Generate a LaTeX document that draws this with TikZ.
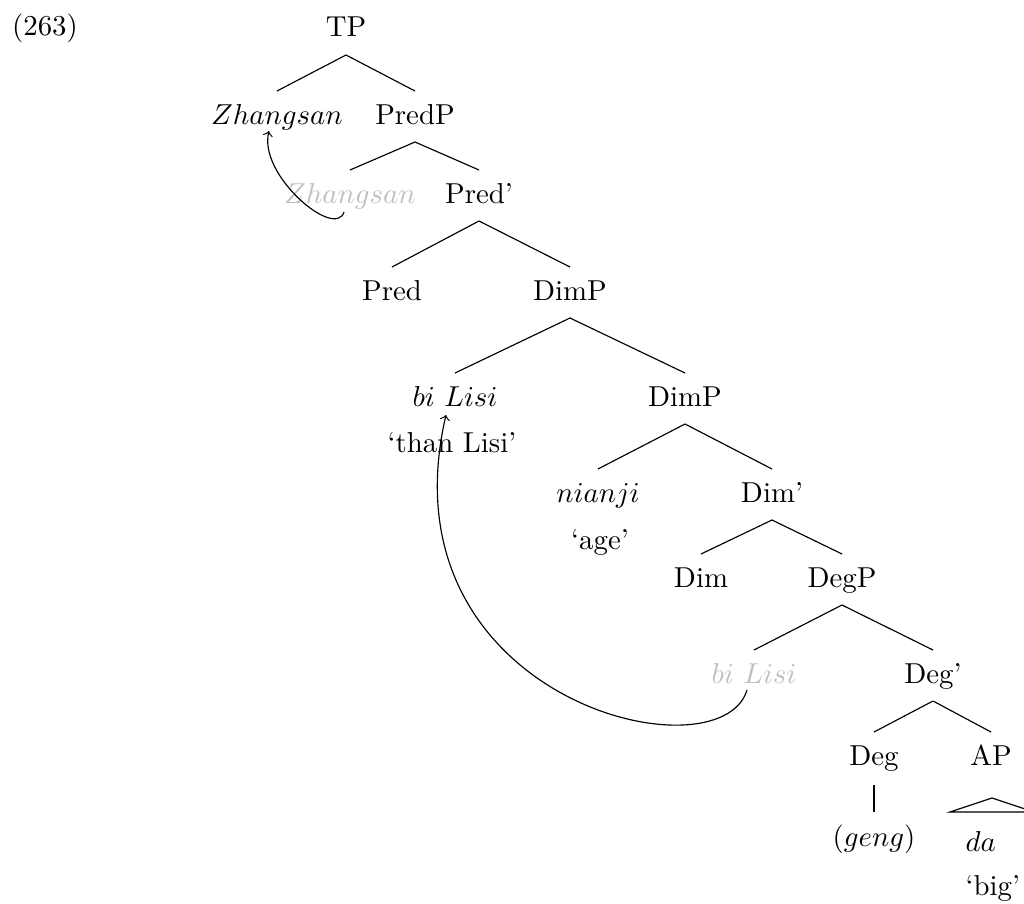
\documentclass[tikz,border=0pt]{standalone}
\usetikzlibrary{calc}
\begin{document}
\begin{tikzpicture}[x=0.347pt,y=-0.347pt,
  lab/.style={anchor=base,inner sep=0pt},
  trace/.style={lab,text=black!25},
  branch/.style={line width=0.4pt},
  mv/.style={->,line width=0.4pt}]
\useasboundingbox (0,0) rectangle (1024,903);
\node[lab] (ex) at (45,36) {(263)};
\node[lab] (TP) at (346,37) {TP};
\node[lab] (zh) at (277,124) {$Zhangsan$};
\node[lab] (predp) at (415,124) {PredP};
\node[trace] (zht) at (350,203) {$Zhangsan$};
\node[lab] (predbar) at (479,203) {Pred'};
\node[lab] (pred) at (392,300) {Pred};
\node[lab] (dimp) at (570,300) {DimP};
\node[lab] (bl) at (455,406) {$bi$ $Lisi$};
\node[lab] (blg) at (452,452) {`than Lisi'};
\node[lab] (dimp2) at (685,406) {DimP};
\node[lab] (nj) at (598,502) {$nianji$};
\node[lab] (njg) at (600,549) {`age'};
\node[lab] (dimbar) at (772,502) {Dim'};
\node[lab] (dim) at (701,587) {Dim};
\node[lab] (degp) at (842,587) {DegP};
\node[trace] (blt) at (754,683) {$bi$ $Lisi$};
\node[lab] (degbar) at (933,683) {Deg'};
\node[lab] (deg) at (874,765) {Deg};
\node[lab] (ap) at (991,765) {AP};
\node[lab] (geng) at (874,846) {($geng$)};
\node[lab,anchor=base west] (da) at (965,851) {$da$};
\node[lab,anchor=base west] (big) at (965,895) {`big'};

\foreach \p/\c in {TP/zh,TP/predp,predp/zht,predp/predbar,predbar/pred,predbar/dimp,
  dimp/bl,dimp/dimp2,dimp2/nj,dimp2/dimbar,dimbar/dim,dimbar/degp,degp/blt,degp/degbar,
  degbar/deg,degbar/ap}
  \draw[branch] ($(\p.base)+(0,18)$) -- ($(\c.base)+(0,-33)$);
\draw[branch] ($(deg.base)+(0,20)$) -- ($(geng.base)+(0,-34)$);
\coordinate (apt) at ($(ap.base)+(1,33)$);
\coordinate (apl) at ($(ap.base)+(-41,47)$);
\coordinate (apr) at ($(ap.base)+(43,47)$);
\draw[branch] (apl) -- (apt) -- (apr) -- cycle;

\coordinate (m1s) at ($(zht.base)+(-6,9)$);
\coordinate (m1e) at ($(zh.base)+(-8,7)$);
\draw[mv] (m1s) .. controls (335,240) and (258,175) .. (m1e);
\coordinate (m2s) at ($(blt.base)+(-7,7)$);
\coordinate (m2e) at ($(bl.base)+(-9,9)$);
\draw[mv] (m2s) .. controls (720,780) and (380,700) .. (m2e);
\end{tikzpicture}
\end{document}
